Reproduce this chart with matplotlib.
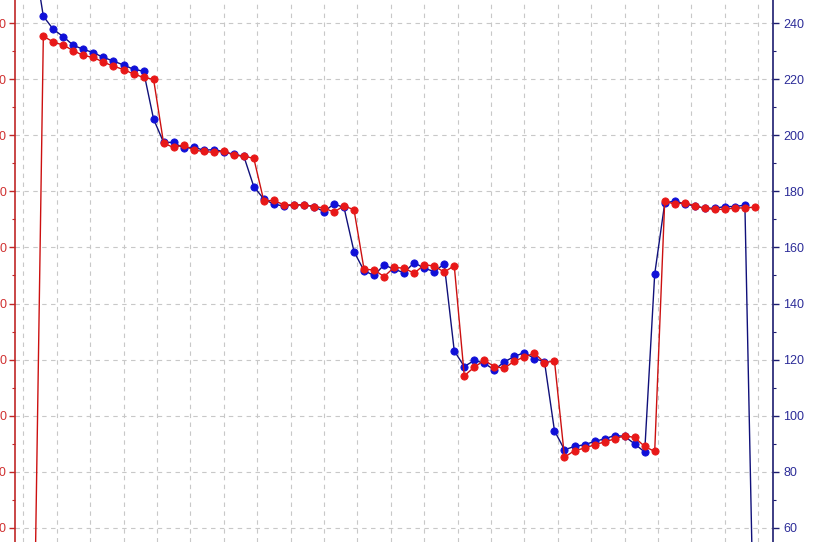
import matplotlib
matplotlib.use("Agg")
import matplotlib.pyplot as plt
from matplotlib.ticker import MultipleLocator

# sample times (3-unit steps)
x_vals = [3 * (i + 1) for i in range(73)]

red_vals = [0.0,
            235.4, 233.3, 232.2, 230.2, 228.5, 227.8, 226.1, 224.7, 223.5, 221.9, 220.7, 220.0,
            197.2, 195.7, 196.6, 194.7, 194.3, 193.9, 194.4, 192.9, 192.6, 191.8,
            176.6, 176.8, 175.2, 175.2, 175.2, 174.6, 174.1, 172.6, 174.9, 173.4,
            152.2, 152.0, 149.6, 152.9, 152.6, 150.8, 153.8, 153.4, 151.2, 153.5,
            114.2, 117.3, 119.7, 117.5, 116.9, 119.5, 120.9, 122.3, 118.9, 119.5,
            85.2, 87.5, 88.4, 89.6, 90.6, 91.7, 92.8, 92.2, 89.0, 87.2,
            176.6, 175.4, 176.0, 174.8, 174.0, 173.6, 173.6, 174.1, 174.1, 174.4]

blue_vals = [265.0,
             242.5, 237.8, 235.2, 232.1, 230.7, 229.5, 227.8, 226.5, 225.1, 223.6, 222.9,
             205.8, 197.5, 197.5, 195.4, 195.8, 194.7, 194.9, 194.2, 193.2, 192.6,
             181.7, 177.3, 175.4, 174.8, 175.2, 175.2, 174.6, 172.8, 175.5, 174.3,
             158.5, 151.7, 150.0, 153.8, 152.2, 151.0, 154.6, 152.6, 151.4, 154.1,
             123.1, 117.5, 119.7, 118.7, 116.3, 119.2, 121.1, 122.5, 120.3, 119.3,
             94.6, 87.8, 89.0, 89.6, 90.8, 91.7, 92.9, 92.6, 89.9, 87.0,
             150.5, 175.8, 176.6, 175.5, 174.8, 174.0, 174.0, 174.6, 174.6, 175.1,
             0.0]

y_ticks = [60, 80, 100, 120, 140, 160, 180, 200, 220, 240]

plt.rcParams['font.family'] = ['Liberation Sans', 'DejaVu Sans']

W, H = 813, 542
fig = plt.figure(figsize=(W / 100, H / 100), dpi=100)
fig.patch.set_facecolor('white')

left_px, right_px = 15.0, 773.3
ax = fig.add_axes([left_px / W, 0.0, (right_px - left_px) / W, 1.0])
ax2 = ax.twinx()

ylim = (54.9, 248.3)
xlim = (-2.48, 224.5)

red_line = '#cc1010'
red_mark = '#e81818'
blue_line = '#10107a'
blue_mark = '#1010d8'

ax.plot(x_vals, blue_vals, color=blue_line, lw=1.0, marker='o', ms=5.2,
        mfc=blue_mark, mec=blue_mark, mew=0.6, zorder=3, clip_on=True)
ax.plot(x_vals, red_vals, color=red_line, lw=1.0, marker='o', ms=5.2,
        mfc=red_mark, mec=red_mark, mew=0.6, zorder=4, clip_on=True)

for a in (ax, ax2):
    a.set_ylim(*ylim)
    a.set_xlim(*xlim)
    a.spines['top'].set_visible(False)
    a.spines['bottom'].set_visible(False)

ax.set_xticks(list(range(0, 221, 10)))
ax.tick_params(axis='x', bottom=False, labelbottom=False)
ax.set_yticks(y_ticks)
ax.yaxis.set_minor_locator(MultipleLocator(10))
ax.grid(True, which='major', color='#c8c8c8', linestyle=(0, (4, 4)), linewidth=0.8)
ax.set_axisbelow(True)

ax.spines['left'].set_color('#c02828')
ax.spines['left'].set_linewidth(1.2)
ax.spines['right'].set_visible(False)
ax.tick_params(axis='y', which='major', colors='#c02828', length=4, width=1.0,
               labelsize=9, pad=2, labelcolor='#d03030')
ax.tick_params(axis='y', which='minor', colors='#c02828', length=2.5, width=0.8)

ax2.spines['left'].set_visible(False)
ax2.spines['right'].set_color('#1c1c70')
ax2.spines['right'].set_linewidth(1.2)
ax2.set_yticks(y_ticks)
ax2.yaxis.set_minor_locator(MultipleLocator(10))
ax2.tick_params(axis='y', which='major', colors='#1c1c70', length=4, width=1.0,
                labelsize=9, pad=3, labelcolor='#2c2c98')
ax2.tick_params(axis='y', which='minor', colors='#1c1c70', length=2.5, width=0.8)
ax2.tick_params(axis='x', bottom=False, labelbottom=False)

fig.savefig('out.png', dpi=100)
